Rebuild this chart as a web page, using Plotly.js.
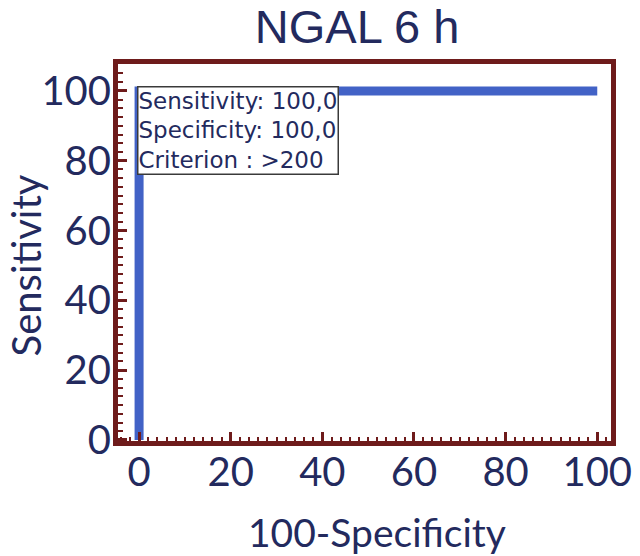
<!DOCTYPE html>
<html><head><meta charset="utf-8">
<script src="https://cdn.plot.ly/plotly-3.0.1.min.js"></script>
<style>html,body{margin:0;padding:0;background:#fff;}#chart{width:640px;height:556px;}</style>
</head><body><div id="chart"></div>
<script>
const fpr = [0, 0, 100];          // 100-Specificity
const tpr = [0, 100, 100];        // Sensitivity
const xTicks = [0, 20, 40, 60, 80, 100];
const yTicks = [0, 20, 40, 60, 80, 100];
const infoLines = ["Sensitivity: 100,0", "Specificity: 100,0", "Criterion : >200"];

const frame = '#6e1b1b';
const navy = '#232a5e';

const trace = {
  x: fpr, y: tpr, type: 'scatter', mode: 'lines',
  line: {color: '#4262c6', width: 9, shape: 'linear'},
  hoverinfo: 'skip', showlegend: false
};

const layout = {
  width: 640, height: 556,
  margin: {l: 118, r: 29, t: 64, b: 115},
  paper_bgcolor: '#ffffff', plot_bgcolor: '#ffffff',
  title: {text: 'NGAL 6 h', font: {family: 'Liberation Sans, Arial', size: 47, color: navy}, x: 0.558, xanchor: 'center', y: 0.953, yanchor: 'middle'},
  xaxis: {
    range: [-4.6, 103], tickvals: xTicks, ticktext: xTicks.map(String),
    showgrid: false, zeroline: false,
    showline: true, mirror: true, linecolor: frame, linewidth: 5,
    ticks: 'inside', ticklen: 9, tickwidth: 3, tickcolor: frame,
    tickmode: 'array',
    minor: {dtick: 2, tick0: 0, ticks: 'inside', ticklen: 4, tickwidth: 2, tickcolor: frame, showgrid: false},
    tickfont: {family: 'Lato, Carlito, sans-serif', size: 40, color: navy},
    ticklabelstandoff: -8
  },
  yaxis: {
    range: [-0.3, 107.7], tickvals: yTicks, ticktext: yTicks.map(String),
    showgrid: false, zeroline: false,
    showline: true, mirror: true, linecolor: frame, linewidth: 5,
    ticks: 'inside', ticklen: 9, tickwidth: 3, tickcolor: frame,
    tickmode: 'array',
    minor: {dtick: 2.5, tick0: 0, ticks: 'inside', ticklen: 5, tickwidth: 2, tickcolor: frame, showgrid: false},
    tickfont: {family: 'Lato, sans-serif', size: 40, color: navy},
    ticklabelstandoff: -6
  },
  annotations: [{
    xref: 'x', yref: 'y', x: -0.5, y: 101.5, xanchor: 'left', yanchor: 'top',
    text: infoLines.join('<br>'), align: 'left', showarrow: false,
    font: {family: 'DejaVu Sans', size: 23, color: navy},
    bgcolor: '#ffffff', bordercolor: '#3a3a3a', borderwidth: 1.5, borderpad: 0
  }, {
    xref: 'x', yref: 'paper', x: 52, y: 0, yshift: -91, xanchor: 'center', yanchor: 'middle',
    text: '100-Specificity', showarrow: false,
    font: {family: 'Lato, sans-serif', size: 39, color: navy}
  }, {
    xref: 'paper', yref: 'y', x: 0, xshift: -92, y: 50, xanchor: 'center', yanchor: 'middle',
    text: 'Sensitivity', textangle: -90, showarrow: false,
    font: {family: 'Lato, sans-serif', size: 40, color: navy}
  }]
};

Plotly.newPlot('chart', [trace], layout, {displayModeBar: false, staticPlot: true});
</script>
</body></html>
